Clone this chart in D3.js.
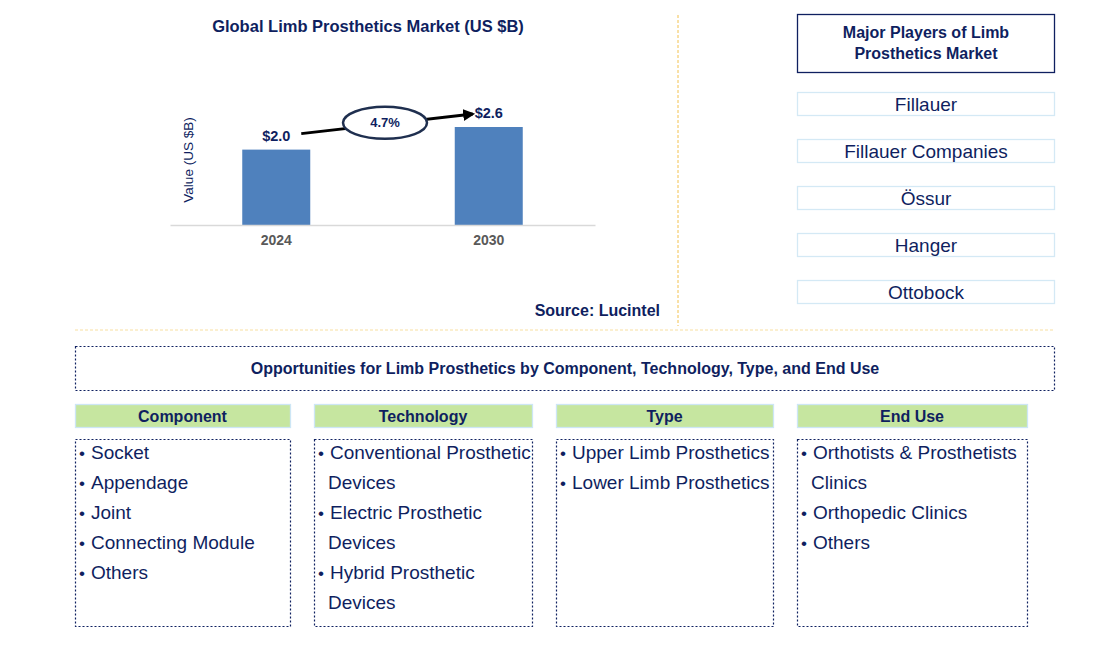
<!DOCTYPE html>
<html>
<head>
<meta charset="utf-8">
<script src="https://cdn.jsdelivr.net/npm/d3@7"></script>
<style>
  body { margin: 0; background: #fff; }
  svg { font-family: "Liberation Sans", Arial, sans-serif; }
</style>
</head>
<body>
<div id="chart-container"></div>
<script>
// Chart values
var years = ["2024", "2030"];
var values = [2.0, 2.6];
var cagrLabel = "4.7%";

var players = ["Fillauer", "Fillauer Companies", "Össur", "Hanger", "Ottobock"];

var categories = ["Component", "Technology", "Type", "End Use"];
var componentItems = [["Socket"], ["Appendage"], ["Joint"], ["Connecting Module"], ["Others"]];
var technologyItems = [["Conventional Prosthetic", "Devices"], ["Electric Prosthetic", "Devices"], ["Hybrid Prosthetic", "Devices"]];
var typeItems = [["Upper Limb Prosthetics"], ["Lower Limb Prosthetics"]];
var endUseItems = [["Orthotists & Prosthetists", "Clinics"], ["Orthopedic Clinics"], ["Others"]];

var navy = "#0F1F5F";

var svg = d3.select("#chart-container")
    .append("svg")
    .attr("width", 1119)
    .attr("height", 647);

// ---------- bar chart ----------
svg.append("text")
    .attr("x", 368)
    .attr("y", 32)
    .attr("text-anchor", "middle")
    .style("font-size", "16.5px")
    .style("font-weight", "bold")
    .attr("fill", navy)
    .text("Global Limb Prosthetics Market (US $B)");

var xScale = d3.scaleBand()
    .domain(years)
    .range([170, 595])
    .paddingInner(0.68)
    .paddingOuter(0.34);

var yScale = d3.scaleLinear()
    .domain([0, 2.6])
    .range([225, 127]);

svg.selectAll(".bar")
    .data(values)
    .enter().append("rect")
    .attr("class", "bar")
    .attr("x", function(d, i) { return xScale(years[i]); })
    .attr("y", function(d) { return yScale(d); })
    .attr("width", xScale.bandwidth())
    .attr("height", function(d) { return yScale(0) - yScale(d); })
    .attr("fill", "#4F81BD");

// baseline axis
var xAxis = svg.append("g")
    .attr("transform", "translate(0,225)")
    .call(d3.axisBottom(xScale).tickSize(0).tickPadding(10));
xAxis.select(".domain").attr("stroke", "#D9D9D9").attr("stroke-width", 1.5);
xAxis.selectAll("text")
    .style("font-size", "14px")
    .style("font-weight", "bold")
    .style("font-family", "Liberation Sans, Arial, sans-serif")
    .attr("fill", "#595959");

svg.selectAll(".val")
    .data(values)
    .enter().append("text")
    .attr("class", "val")
    .attr("x", function(d, i) { return xScale(years[i]) + xScale.bandwidth() / 2; })
    .attr("y", function(d) { return yScale(d) - 9; })
    .attr("text-anchor", "middle")
    .style("font-size", "14.5px")
    .style("font-weight", "bold")
    .attr("fill", navy)
    .text(function(d) { return "$" + d.toFixed(1); });

svg.append("text")
    .attr("transform", "translate(193,160) rotate(-90)")
    .attr("text-anchor", "middle")
    .style("font-size", "13.5px")
    .attr("fill", navy)
    .text("Value (US $B)");

// CAGR arrow
var defs = svg.append("defs");
defs.append("marker")
    .attr("id", "arrow")
    .attr("viewBox", "0 0 10 10")
    .attr("refX", 8).attr("refY", 5)
    .attr("markerWidth", 4).attr("markerHeight", 4)
    .attr("orient", "auto")
    .append("path")
    .attr("d", "M0,0 L10,5 L0,10 z")
    .attr("fill", "#000");

var x0 = xScale(years[0]) + xScale.bandwidth() / 2 + 25;
var x1 = xScale(years[1]) + xScale.bandwidth() / 2 - 16;
var ya = yScale(values[0]) - 16, yb = yScale(values[1]) - 13;
svg.append("line")
    .attr("x1", x0).attr("y1", ya)
    .attr("x2", x1).attr("y2", yb)
    .attr("stroke", "#000")
    .attr("stroke-width", 3)
    .attr("marker-end", "url(#arrow)");

var cx = (x0 + x1) / 2 - 2, cy = (ya + yb) / 2 - 1;
svg.append("ellipse")
    .attr("cx", cx).attr("cy", cy)
    .attr("rx", 42).attr("ry", 16)
    .attr("fill", "#fff")
    .attr("stroke", "#1F2F4F")
    .attr("stroke-width", 2.5);
svg.append("text")
    .attr("x", cx).attr("y", cy + 4.5)
    .attr("text-anchor", "middle")
    .style("font-size", "13px")
    .style("font-weight", "bold")
    .attr("fill", navy)
    .text(cagrLabel);

svg.append("text")
    .attr("x", 660)
    .attr("y", 316)
    .attr("text-anchor", "end")
    .style("font-size", "16px")
    .style("font-weight", "bold")
    .attr("fill", navy)
    .text("Source: Lucintel");

// dividers
svg.append("line")
    .attr("x1", 678).attr("y1", 15).attr("x2", 678).attr("y2", 326)
    .attr("stroke", "#F2C14E").attr("stroke-width", 1).attr("stroke-dasharray", "3,2");
svg.append("line")
    .attr("x1", 75).attr("y1", 330).attr("x2", 1055).attr("y2", 330)
    .attr("stroke", "#F8DFA0").attr("stroke-width", 1).attr("stroke-dasharray", "3,2");

// ---------- major players ----------
svg.append("rect")
    .attr("x", 797.5).attr("y", 14.5).attr("width", 257).attr("height", 58)
    .attr("fill", "#fff").attr("stroke", "#0F2060").attr("stroke-width", 1.3);
svg.append("text")
    .attr("x", 926).attr("y", 38)
    .attr("text-anchor", "middle")
    .style("font-size", "16px").style("font-weight", "bold")
    .attr("fill", navy)
    .text("Major Players of Limb");
svg.append("text")
    .attr("x", 926).attr("y", 59)
    .attr("text-anchor", "middle")
    .style("font-size", "16px").style("font-weight", "bold")
    .attr("fill", navy)
    .text("Prosthetics Market");

var playerY = d3.scalePoint()
    .domain(players)
    .range([104, 292]);

players.forEach(function(p) {
    var yc = playerY(p);
    svg.append("rect")
        .attr("x", 797.5).attr("y", yc - 11.5).attr("width", 257).attr("height", 23)
        .attr("fill", "#fff").attr("stroke", "#D4E9F5").attr("stroke-width", 1.3);
    svg.append("text")
        .attr("x", 926).attr("y", yc + 6.5)
        .attr("text-anchor", "middle")
        .style("font-size", "19px")
        .attr("fill", navy)
        .text(p);
});

// ---------- opportunities ----------
svg.append("rect")
    .attr("x", 75.5).attr("y", 346.5).attr("width", 979).attr("height", 44)
    .attr("fill", "none").attr("stroke", "#0F2060").attr("stroke-width", 1.2)
    .attr("stroke-dasharray", "2,2");
svg.append("text")
    .attr("x", 565).attr("y", 374)
    .attr("text-anchor", "middle")
    .style("font-size", "16px").style("font-weight", "bold")
    .attr("fill", navy)
    .text("Opportunities for Limb Prosthetics by Component, Technology, Type, and End Use");

var columns = [
    {x: 75, w: 215, items: componentItems},
    {x: 314, w: 218, items: technologyItems},
    {x: 556, w: 217, items: typeItems},
    {x: 797, w: 230, items: endUseItems}
];

categories.forEach(function(cat, i) {
    var col = columns[i];
    svg.append("rect")
        .attr("x", col.x + 0.5).attr("y", 404.5).attr("width", col.w).attr("height", 23)
        .attr("fill", "#C6E6A0").attr("stroke", "#CDE6F5").attr("stroke-width", 1.3);
    svg.append("text")
        .attr("x", col.x + col.w / 2).attr("y", 421.5)
        .attr("text-anchor", "middle")
        .style("font-size", "16px").style("font-weight", "bold")
        .attr("fill", navy)
        .text(cat);

    svg.append("rect")
        .attr("x", col.x + 0.5).attr("y", 439.5).attr("width", col.w).attr("height", 187)
        .attr("fill", "none").attr("stroke", "#0F2060").attr("stroke-width", 1.2)
        .attr("stroke-dasharray", "2,2");

    var line = 0;
    col.items.forEach(function(item) {
        item.forEach(function(txt, k) {
            var y = 459 + line * 30;
            if (k === 0) {
                svg.append("text")
                    .attr("x", col.x + 4).attr("y", y)
                    .style("font-size", "17px")
                    .attr("fill", navy)
                    .text("•");
            }
            svg.append("text")
                .attr("x", col.x + (k === 0 ? 16 : 14)).attr("y", y)
                .style("font-size", "19px")
                .attr("fill", navy)
                .text(txt);
            line++;
        });
    });
});
</script>
</body>
</html>
